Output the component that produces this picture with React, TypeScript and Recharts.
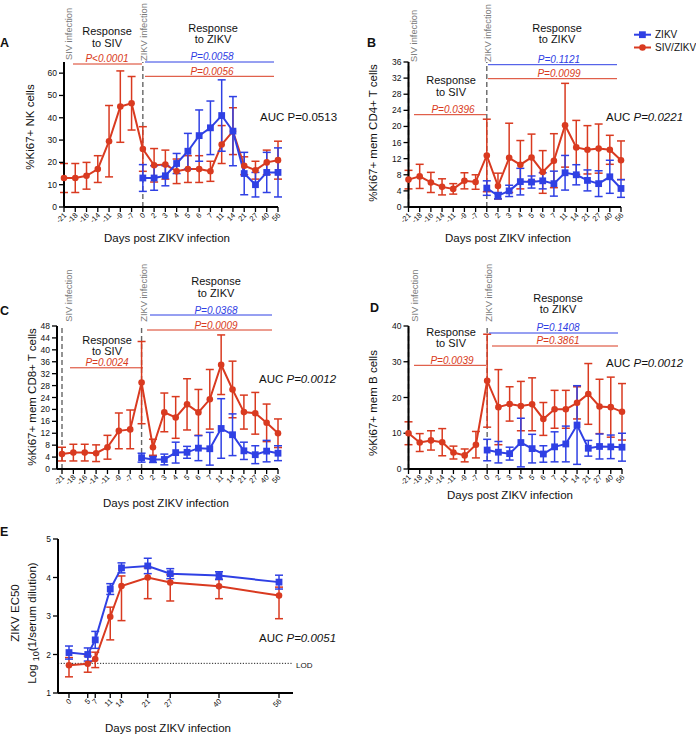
import React from 'react';
import { LineChart, Line, XAxis, YAxis, ErrorBar, ReferenceLine } from 'recharts';

const FONT = "'Liberation Sans', Arial, Helvetica, sans-serif";
const RED = '#d93a20';
const BLUE = '#2f40e4';
const GRAY = '#7a7a7a';

// days on the categorical panels (A-D); ZIKV group starts at day 0
const days = ['-21', '-18', '-16', '-14', '-11', '-9', '-7', '0', '2', '3', '4', '5', '6', '7', '11', '14', '21', '27', '40', '56'];

// A: %Ki67+ NK cells
const nkRed = [13, 13, 14, 17, 29.5, 45, 46.5, 26, 18.7, 19, 16, 17, 17, 16, 28, 34, 18.5, 16.5, 20, 21];
const nkRedSd = [6.5, 6.5, 6, 6, 16, 16, 12, 10, 7.5, 6.5, 5.5, 6, 6, 4.5, 8.5, 10.5, 4, 4, 5.5, 8.5];
const nkBlue = [13, 13, 14, 19.5, 25, 32, 35.5, 41, 34, 15, 10, 15.5, 15.5];
const nkBlueSd = [6, 5.5, 4.5, 4.5, 8, 11.5, 12, 16, 15.5, 9.5, 5.5, 9, 11];

// B: %Ki67+ mem CD4+ T cells
const cd4Red = [6.8, 7.6, 6.1, 5, 4.5, 6.5, 6.2, 12.8, 5.2, 12.2, 10.5, 12.3, 8.7, 11.5, 20.3, 14.8, 14.2, 14.5, 14.2, 11.6];
const cd4RedSd = [2.3, 3, 2.5, 2, 1.3, 2, 1.8, 9, 3.2, 8.6, 6, 5.8, 5.3, 6.7, 10.4, 6.7, 6, 6.1, 3.6, 4.8];
const cd4Blue = [4.7, 2.8, 4.0, 6.3, 6.2, 6.5, 5.8, 8.5, 8, 6.6, 5.8, 7.5, 4.6];
const cd4BlueSd = [1.8, 0.8, 1.4, 3.3, 1.5, 2, 3.1, 4.3, 2.5, 2.6, 3.2, 4.1, 2.2];

// C: %Ki67+ mem CD8+ T cells
const cd8Red = [5, 5.5, 5.5, 5.3, 7.3, 12.8, 13.3, 29, 7.3, 19, 17.3, 21.7, 19, 23.4, 35, 26.7, 19.1, 18.7, 15.5, 12];
const cd8RedSd = [2.3, 2.8, 2.8, 2.8, 4, 6, 6.5, 13.8, 2.7, 6.5, 7, 8.6, 7.7, 10, 10, 9.5, 5.7, 7, 6.3, 4.8];
const cd8Blue = [3.8, 3.2, 3.2, 5.5, 5.6, 7, 6.8, 13.6, 11.5, 6.1, 4.8, 6, 5.3];
const cd8BlueSd = [1.5, 1, 1.8, 3.5, 2, 4.2, 5.5, 10, 7, 2.9, 3, 3.6, 2.5];

// D: %Ki67+ mem B cells
const bRed = [10, 7.4, 8, 7.5, 4.6, 3.8, 6.8, 24.7, 17.3, 18.2, 17.6, 18.1, 14, 16.7, 16.7, 18.5, 21, 17.5, 17.3, 16];
const bRedSd = [3.2, 2.5, 2.7, 3.8, 1.8, 1.8, 3.7, 13, 10.5, 4.8, 6.9, 7.4, 4.6, 5.3, 5.3, 4.5, 8.5, 7.6, 8.4, 7.9];
const bBlue = [5.3, 4.7, 4.3, 7.4, 5.7, 4.2, 6.2, 7, 12.3, 5.8, 6.3, 6.2, 6.1];
const bBlueSd = [3, 3, 1.8, 6.8, 4, 2.3, 4.2, 5, 11, 2.2, 3.5, 3.3, 3.9];

// E: ZIKV EC50 (log10), error given as [below, above]
const ecDays = [0, 5, 7, 11, 14, 21, 27, 40, 56];
const ecBlue = [2.05, 2.0, 2.38, 3.7, 4.25, 4.3, 4.1, 4.05, 3.88];
const ecBlueSd = [0.17, 0.17, 0.22, 0.14, 0.13, 0.2, 0.13, 0.1, 0.18];
const ecRed = [1.72, 1.76, 1.88, 2.98, 3.78, 4.0, 3.87, 3.77, 3.53];
const ecRedLo = [0.3, 0.22, 0.22, 0.6, 0.9, 0.55, 0.48, 0.32, 0.6];
const ecRedHi = [0.2, 0.2, 0.18, 0.25, 0.26, 0.25, 0.2, 0.18, 0.22];
const LOD = 1.77;

const zikvStart = days.indexOf('0');

function buildRows(red: number[], redSd: number[], blue: number[], blueSd: number[]) {
  return days.map((d, i) => ({
    day: d,
    red: red[i],
    redErr: redSd[i],
    blue: i >= zikvStart ? blue[i - zikvStart] : null,
    blueErr: i >= zikvStart ? blueSd[i - zikvStart] : undefined,
  }));
}

const SquareDot = (props: any) => {
  const { cx, cy } = props;
  if (cx == null || cy == null || isNaN(cy)) return <g />;
  return <rect x={cx - 3.4} y={cy - 3.4} width={6.8} height={6.8} fill={BLUE} />;
};

const RotTick = (props: any) => {
  const { x, y, payload } = props;
  return (
    <g transform={`translate(${x + 1},${y})`}>
      <text transform="rotate(-45)" x={0} y={0} dy="0.35em" textAnchor="end" fontSize={7.5} fill="#111" fontFamily={FONT}>
        {payload.value}
      </text>
    </g>
  );
};

const axisLine = { stroke: '#000', strokeWidth: 2 };
const tickLine = { stroke: '#000', strokeWidth: 1.3 };

function seriesLines(errKeyRed: string, errKeyBlue: string) {
  return [
    <Line key="r" type="linear" dataKey="red" stroke={RED} strokeWidth={2} dot={{ r: 3.3, fill: RED, stroke: RED, strokeWidth: 0 }} activeDot={false} isAnimationActive={false}>
      <ErrorBar dataKey={errKeyRed} width={4} stroke={RED} strokeWidth={1.5} direction="y" isAnimationActive={false} />
    </Line>,
    <Line key="b" type="linear" dataKey="blue" stroke={BLUE} strokeWidth={2} dot={<SquareDot />} activeDot={false} isAnimationActive={false}>
      <ErrorBar dataKey={errKeyBlue} width={4} stroke={BLUE} strokeWidth={1.5} direction="y" isAnimationActive={false} />
    </Line>,
  ];
}

function TimePanel({ pos, rows, yDomain, yTicks, padLeft = 0 }: any) {
  const { left, top, width, height, plotL, plotT, plotR, plotB } = pos;
  return (
    <div style={{ position: 'absolute', left, top }}>
      <LineChart width={width} height={height} data={rows} margin={{ top: plotT - top, right: left + width - plotR, bottom: 0, left: 0 }}>
        <XAxis dataKey="day" type="category" interval={0} height={top + height - plotB} padding={{ left: padLeft, right: 0 }}
          tick={<RotTick />} tickSize={5} tickMargin={2} tickLine={tickLine} axisLine={axisLine} />
        <YAxis type="number" domain={yDomain} ticks={yTicks} interval={0} allowDataOverflow width={plotL - left}
          tickSize={5} tickMargin={2} tick={{ fontSize: 8.5, fill: '#111', fontFamily: FONT }} tickLine={tickLine} axisLine={axisLine} />
        <ReferenceLine x="-21" stroke="#666" strokeWidth={1.4} strokeDasharray="5 3" />
        <ReferenceLine x="0" stroke="#666" strokeWidth={1.4} strokeDasharray="5 3" />
        {seriesLines('redErr', 'blueErr')}
      </LineChart>
    </div>
  );
}

function EC50Panel() {
  const rows = ecDays.map((d, i) => ({
    day: d, red: ecRed[i], redErr: [ecRedLo[i], ecRedHi[i]], blue: ecBlue[i], blueErr: ecBlueSd[i],
  }));
  const left = 0, top = 510, width = 320, height = 226;
  const plotL = 58, plotT = 539, plotR = 293, plotB = 693;
  return (
    <div style={{ position: 'absolute', left, top }}>
      <LineChart width={width} height={height} data={rows} margin={{ top: plotT - top, right: left + width - plotR, bottom: 0, left: 0 }}>
        <XAxis dataKey="day" type="number" domain={[-2.93, 59.73]} ticks={ecDays} interval={0} allowDataOverflow height={top + height - plotB}
          tick={<RotTick />} tickSize={5} tickMargin={2} tickLine={tickLine} axisLine={axisLine} />
        <YAxis type="number" domain={[1, 5]} ticks={[1, 2, 3, 4, 5]} interval={0} allowDataOverflow width={plotL - left}
          tickSize={5} tickMargin={2} tick={{ fontSize: 8.5, fill: '#111', fontFamily: FONT }} tickLine={tickLine} axisLine={axisLine} />
        <ReferenceLine y={LOD} stroke="#222" strokeWidth={1} strokeDasharray="1.2 1.6" />
        {seriesLines('redErr', 'blueErr')}
      </LineChart>
    </div>
  );
}

const T = ({ x, y, children, size = 11, anchor = 'middle', color = '#111', italic = false, bold = false }: any) => (
  <text x={x} y={y} fontSize={size} textAnchor={anchor} fill={color} fontStyle={italic ? 'italic' : 'normal'}
    fontWeight={bold ? 'bold' : 'normal'} fontFamily={FONT}>{children}</text>
);

// vertical text, reading upward; xc = visual centre, y = anchor point
const VT = ({ xc, y, children, size = 9.3, color = GRAY, anchor = 'start' }: any) => (
  <text transform={`translate(${xc + size * 0.36},${y}) rotate(-90)`} fontSize={size} textAnchor={anchor} fill={color} fontFamily={FONT}>{children}</text>
);

const HL = ({ x1, x2, y, color }: any) => <line x1={x1} x2={x2} y1={y} y2={y} stroke={color} strokeWidth={1} />;

const Auc = ({ x, y, p, italic = true }: any) => (
  <text x={x} y={y} fontSize={11.5} fill="#111" fontFamily={FONT}>
    AUC <tspan fontStyle={italic ? 'italic' : 'normal'}>{p}</tspan>
  </text>
);

function Overlay() {
  return (
    <svg width={696} height={736} style={{ position: 'absolute', left: 0, top: 0, pointerEvents: 'none' }}>
      {/* A */}
      <T x={0} y={47} size={12.5} anchor="start" bold>A</T>
      <VT xc={69} y={60}>SIV infection</VT>
      <VT xc={144} y={61}>ZIKV infection</VT>
      <T x={107} y={34.5}>Response</T>
      <T x={107} y={46.5}>to SIV</T>
      <T x={213} y={32}>Response</T>
      <T x={213} y={43}>to ZIKV</T>
      <T x={107} y={62} size={10} color={RED} italic>P&lt;0.0001</T>
      <HL x1={73} x2={142} y={64} color={RED} />
      <T x={212} y={59.5} size={10} color={BLUE} italic>P=0.0058</T>
      <HL x1={145} x2={274} y={62} color={BLUE} />
      <T x={212} y={74.5} size={10} color={RED} italic>P=0.0056</T>
      <HL x1={145} x2={274} y={76.3} color={RED} />
      <Auc x={260} y={121} p="P=0.0513" italic={false} />
      <text transform="translate(34,127) rotate(-90)" fontSize={11.5} textAnchor="middle" fill="#111" fontFamily={FONT}>%Ki67+ NK cells</text>
      <T x={167} y={241.5} size={11.5}>Days post ZIKV infection</T>

      {/* B */}
      <T x={367} y={47} size={12.5} anchor="start" bold>B</T>
      <VT xc={414} y={62}>SIV infection</VT>
      <VT xc={487.5} y={62}>ZIKV infection</VT>
      <T x={451} y={84}>Response</T>
      <T x={451} y={95.5}>to SIV</T>
      <T x={557} y={32}>Response</T>
      <T x={557} y={43}>to ZIKV</T>
      <T x={559} y={62.5} size={10} color={BLUE} italic>P=0.1121</T>
      <HL x1={488} x2={617} y={64.7} color={BLUE} />
      <T x={559} y={76.5} size={10} color={RED} italic>P=0.0099</T>
      <HL x1={488} x2={617} y={78.7} color={RED} />
      <T x={453} y={112.5} size={10} color={RED} italic>P=0.0396</T>
      <HL x1={414} x2={486} y={114.7} color={RED} />
      <Auc x={606} y={121} p="P=0.0221" />
      <text transform="translate(377,133) rotate(-90)" fontSize={11.5} textAnchor="middle" fill="#111" fontFamily={FONT}>%Ki67+ mem CD4+ T cells</text>
      <T x={508} y={241.5} size={11.5}>Days post ZIKV infection</T>
      {/* legend */}
      <line x1={634} x2={651} y1={34.7} y2={34.7} stroke={BLUE} strokeWidth={2} />
      <rect x={639} y={31.3} width={6.8} height={6.8} fill={BLUE} />
      <T x={655} y={38.3} size={10} anchor="start">ZIKV</T>
      <line x1={634} x2={651} y1={47.5} y2={47.5} stroke={RED} strokeWidth={2} />
      <circle cx={642.5} cy={47.5} r={3.3} fill={RED} />
      <T x={655} y={51} size={10} anchor="start">SIV/ZIKV</T>

      {/* C */}
      <T x={0} y={315} size={12.5} anchor="start" bold>C</T>
      <VT xc={69} y={321.7}>SIV infection</VT>
      <VT xc={144} y={321.7}>ZIKV infection</VT>
      <T x={107} y={343.5}>Response</T>
      <T x={107} y={355}>to SIV</T>
      <T x={216} y={284.5}>Response</T>
      <T x={216} y={296.5}>to ZIKV</T>
      <T x={216} y={313.5} size={10} color={BLUE} italic>P=0.0368</T>
      <HL x1={150} x2={272} y={315} color={BLUE} />
      <T x={216} y={328.5} size={10} color={RED} italic>P=0.0009</T>
      <HL x1={147} x2={272} y={330} color={RED} />
      <T x={107} y={366.3} size={10} color={RED} italic>P=0.0024</T>
      <HL x1={70} x2={143} y={367.8} color={RED} />
      <Auc x={259} y={383} p="P=0.0012" />
      <text transform="translate(35.5,397) rotate(-90)" fontSize={11.5} textAnchor="middle" fill="#111" fontFamily={FONT}>%Ki67+ mem CD8+ T cells</text>
      <T x={166} y={507} size={11.5}>Days post ZIKV infection</T>

      {/* D */}
      <T x={370} y={312} size={12.5} anchor="start" bold>D</T>
      <VT xc={415} y={321.7}>SIV infection</VT>
      <VT xc={489} y={321.7}>ZIKV infection</VT>
      <T x={451} y={335.5}>Response</T>
      <T x={451} y={346.5}>to SIV</T>
      <T x={558} y={301.5}>Response</T>
      <T x={558} y={313}>to ZIKV</T>
      <T x={558} y={331} size={10} color={BLUE} italic>P=0.1408</T>
      <HL x1={489} x2={618} y={333} color={BLUE} />
      <T x={558} y={344} size={10} color={RED} italic>P=0.3861</T>
      <HL x1={492} x2={618} y={346} color={RED} />
      <T x={452} y={363.5} size={10} color={RED} italic>P=0.0039</T>
      <HL x1={414} x2={486} y={365.3} color={RED} />
      <Auc x={606} y={367} p="P=0.0012" />
      <text transform="translate(377,403) rotate(-90)" fontSize={11.5} textAnchor="middle" fill="#111" fontFamily={FONT}>%Ki67+ mem B cells</text>
      <T x={510} y={499} size={11.5}>Days post ZIKV infection</T>

      {/* E */}
      <T x={0} y={536} size={12.5} anchor="start" bold>E</T>
      <text transform="translate(19,613) rotate(-90)" fontSize={11.5} textAnchor="middle" fill="#111" fontFamily={FONT}>ZIKV EC50</text>
      <text transform="translate(35.5,623) rotate(-90)" fontSize={11.5} textAnchor="middle" fill="#111" fontFamily={FONT}>
        Log <tspan dy={3} fontSize={9}>10</tspan><tspan dy={-3}>(1/serum dilution)</tspan>
      </text>
      <T x={296} y={668} size={8} anchor="start">LOD</T>
      <Auc x={259} y={642} p="P=0.0051" />
      <T x={168} y={732} size={11.5}>Days post ZIKV infection</T>
    </svg>
  );
}

const posA = { left: 0, top: 0, width: 300, height: 250, plotL: 64, plotT: 62, plotR: 278, plotB: 207 };
const posB = { left: 340, top: 0, width: 300, height: 250, plotL: 408.5, plotT: 62, plotR: 621, plotB: 207 };
const posC = { left: 0, top: 250, width: 300, height: 250, plotL: 57, plotT: 326, plotR: 278, plotB: 469 };
const posD = { left: 340, top: 250, width: 300, height: 250, plotL: 408.5, plotT: 326, plotR: 622, plotB: 469 };

export default function App() {
  return (
    <div style={{ position: 'absolute', left: 0, top: 0, width: 696, height: 736, background: '#fff', fontFamily: FONT }}>
      <TimePanel pos={posA} rows={buildRows(nkRed, nkRedSd, nkBlue, nkBlueSd)} yDomain={[0, 65]} yTicks={[0, 10, 20, 30, 40, 50, 60]} />
      <TimePanel pos={posB} rows={buildRows(cd4Red, cd4RedSd, cd4Blue, cd4BlueSd)} yDomain={[0, 36]} yTicks={[0, 4, 8, 12, 16, 20, 24, 28, 32, 36]} />
      <TimePanel pos={posC} rows={buildRows(cd8Red, cd8RedSd, cd8Blue, cd8BlueSd)} yDomain={[0, 48]} yTicks={[0, 4, 8, 12, 16, 20, 24, 28, 32, 36, 40, 44, 48]} padLeft={5} />
      <TimePanel pos={posD} rows={buildRows(bRed, bRedSd, bBlue, bBlueSd)} yDomain={[0, 40]} yTicks={[0, 10, 20, 30, 40]} />
      <EC50Panel />
      <Overlay />
    </div>
  );
}
